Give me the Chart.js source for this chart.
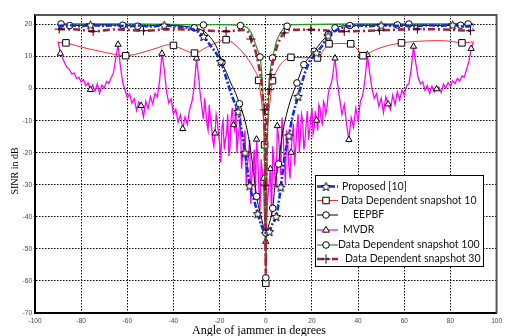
<!DOCTYPE html>
<html>
<head>
<meta charset="utf-8">
<script src="https://cdn.jsdelivr.net/npm/chart.js@4.4.0/dist/chart.umd.min.js"></script>
<style>
  html, body { margin: 0; padding: 0; background: #fff; }
  #wrap { width: 506px; height: 336px; position: relative; }
</style>
</head>
<body>
<div id="wrap"><canvas id="chart"></canvas></div>
<script>
// ---- data ----
const xTicks = [-100, -80, -60, -40, -20, 0, 20, 40, 60, 80, 100];
const yTicks = [-70, -60, -50, -40, -30, -20, -10, 0, 10, 20];

const proposedDeg = [-90, -85, -80, -76, -70, -65, -60, -55, -50, -44, -40, -36, -33, -30, -27, -24, -21, -19.5, -17, -15.5,
  -14, -12, -10.5, -9, -8, -7, -5, -3.5, -2, 0, 1.5, 3, 4.5, 5.5, 6.5, 8, 10, 11.5, 14, 15.5,
  17, 19, 22, 24.5, 27, 30, 33, 36, 40, 45, 50, 55, 60, 65, 70, 75, 81, 85, 90];
const proposedDb = [19.6, 19.8, 19.5, 19.9, 19.6, 19.8, 19.5, 19.7, 19.4, 19.8, 19.5, 19.3, 18.8, 18, 16.3, 13.5, 10.5, 8.5, 3, -0.5,
  -3.5, -7.1, -13, -20, -25, -30.3, -35, -39, -42.5, -45, -44.6, -42, -39.9, -36, -30.7, -22, -14.7, -9, -2.4, 1.5,
  5, 8.5, 11.2, 13.5, 16.5, 18, 19, 19.5, 19.7, 19.5, 19.8, 19.6, 19.7, 19.5, 19.8, 19.6, 19.9, 19.5, 19.7];
const proposedMarks = [-76, -44, -27, -19.5, -12, -9, -7, -3.5, 1.5, 4.5, 6.5, 10, 14, 22, 27, 50, 81];

const dd10Deg = [-90, -86.6, -80, -72, -66, -60.7, -55, -48, -41.7, -40, -36, -30.9, -26, -21, -17.2, -13, -8.6, -5, -3.1, -2,
  -1, -0.5, 0, 0.5, 1, 2, 2.9, 4, 5.8, 8, 10.9, 16, 22.4, 25, 27.4, 32, 36.8, 40.4, 42.1, 47,
  52, 58.8, 66, 75, 80, 85, 89.6];
const dd10Db = [14.5, 14.3, 13, 11.7, 10.8, 10.3, 11, 12.5, 13.75, 13.5, 12.3, 11.1, 12.8, 14.5, 15.3, 13.5, 10.1, 6, 2.6, -3,
  -10, -17.5, -60.7, -17.5, -10, -3, 2.5, 4.5, 7, 8.8, 9.8, 9.7, 9.6, 12, 14, 14.1, 14, 11.7, 10.3, 12,
  13.3, 14.3, 14.8, 15, 14.8, 14.3, 14.6];
const dd10Marks = [-86.6, -60.7, -40, -30.9, -17.2, -3.1, -0.5, 0, 2.9, 10.9, 22.4, 27.4, 36.8, 42.1, 58.8, 85];

const eepbfDeg = [-90, -88.7, -85, -75, -62, -55.5, -45, -38, -31, -27, -24, -21, -19, -17, -15, -13, -11.4, -9, -7, -5.5,
  -4, -2, 0, 1.5, 3, 4, 5.5, 7, 9, 11, 13.5, 16.5, 19, 21, 24, 27, 30, 36.4, 45, 57,
  62, 75, 84.4, 87.7, 90];
const eepbfDb = [20, 20.2, 19.7, 19.9, 19.8, 19.5, 19.8, 19.6, 19, 18, 16, 12.5, 8.2, 5, 1.5, -1.5, -4.7, -10, -17, -25,
  -33.6, -40, -45, -42, -37.3, -30, -23.5, -15, -8, -3, 1.8, 7.5, 10, 11.7, 14.5, 16.9, 19, 19.7, 19.8, 19.9,
  19.8, 19.7, 19.8, 20.2, 20];
const eepbfMarks = [-88.7, -85, -62, -55.5, -31, -19, -11.4, -4, 0, 3, 5.5, 13.5, 16.5, 21, 27, 30, 36.4, 57, 84.4, 87.7];

// MVDR sampled every degree on the flanks, every half degree in the main lobe
const mvdrDeg = [
  ...Array.from({ length: 60 }, (_, i) => i - 90),
  ...Array.from({ length: 121 }, (_, i) => -30 + i * 0.5),
  ...Array.from({ length: 60 }, (_, i) => 31 + i),
];
const mvdrDb = [
  // -90 .. -31
  14.7, 11, 9.5, 7.8, 6.5, 5.8, 4.6, 4.9, 3.2, 3.6,
  2.1, 2.8, 0.9, 1.8, -0.3, 1.2, -0.8, 1.5, -1.5, 1.1,
  0.2, 2.3, 1.6, 3.4, 5, 9.5, 13.8, 7, 2, -0.5,
  -2.8, -1.6, -4.5, -3.2, -6.8, -4.1, -5.3, -8.8, -3.9, -6.2,
  -2.5, -4.8, -1.5, -2.6, 2.5, 11, 6, -1, -4.5, -3.2,
  -8, -6.4, -10.5, -8.2, -12.5, -8.8, -11.2, -6.5, -4, 0.5,
  // -30 .. 30, half degree
  9.5, 6, 3, -1, -4, -7, -9.5, -3, -7, -11, -13, -5, -9, -12, -16, -18, -13.9, -8, -10, -14,
  -17, -23, -12, -10, -19, -16, -14, -8, -21, -18, -9, -6, -11.3, -13, -5, -20, -15, -12, -9, -25,
  -20, -17, -13, -30, -24, -21, -16, -36, -27, -24, -19, -33, -15.8, -21, -31, -38, -22, -26, -28, -42,
  -47.7, -38, -33, -29, -25, -40, -18, -22, -28, -31, -11.6, -15, -20, -27, -9, -14, -22, -30, -13, -17,
  -24, -28, -19.9, -14, -11, -24, -18, -12, -8, -20, -15, -8, -10, -19, -16, -11, -7, -16, -13, -9,
  -6, -14, -12, -7, -9.9, -13, -5, -6, -10, -11, -4, -5, -8, -6, -2, 0, 1, 2, 4, 7,
  9.5,
  // 31 .. 90
  2, -3, -8, -5, -11, -15.9, -9, -12, -6, -10,
  -4, -2, 3, 10.6, 5, 0, -3, -1.5, -5.5, -3,
  -7.5, -2.5, -4.8, -6.5, -2, -5, -1, -3.5, -0.5, -2,
  1, 1.5, 6, 13.2, 8, 3.5, 1.5, 2.2, -0.5, 1,
  -1.5, 0.8, -1, -0.1, 0.5, -1.2, 1.4, 0.2, 1.9, 0.8,
  2.5, 1.6, 3.2, 2.4, 4, 3.6, 6, 8.5, 12.5, 14.7];
const mvdrMarks = [-89, -76, -64, -54, -45, -36, -30, -22, -14, -4, -1, 0, 2, 5, 11, 22, 30, 36, 44, 53, 64, 74, 89];

const dd100Deg = [-90, -80, -60, -40, -27, -20, -11, -8, -6, -4.5, -3.5, -2.5, -2, -1.5, -1, -0.5, 0, 0.5, 1, 1.5,
  2, 2.9, 4, 5, 6.5, 8, 9.2, 12, 20, 40, 62, 80, 90];
const dd100Db = [20.2, 20.2, 20.2, 20.1, 19.9, 20, 19.7, 19, 17, 14, 12, 9.9, 7, 2, -8, -25, -59, -25, -8, 2,
  6, 9.6, 13, 15.5, 17.5, 19, 19.5, 20, 20.1, 20.2, 20.2, 20.2, 20.2];
const dd100Marks = [-27, -11, -2.5, 0, 2.9, 9.2, 62];

const dd30Deg = [-90, -89.5, -80, -74.8, -65, -53, -40, -30, -17.2, -10, -8, -6.4, -5, -4, -3, -2, -1, -0.5, -0.3, -0.15,
  0, 0.15, 0.5, 1, 1.5, 2.2, 3, 4, 5, 6.5, 8, 10, 19.5, 34, 49.3, 65.7, 80, 88.7, 90];
const dd30Db = [18.6, 18.6, 18.4, 17.9, 18.5, 18.1, 18.6, 18.3, 17.9, 18.3, 18, 15.5, 13, 10.5, 7, 3, -4, -6.6, -30.3, -45,
  -58, -30, -10, -3, -0.3, 4.4, 8, 11, 13.5, 16, 17.4, 18.3, 18.4, 17.9, 18.2, 18.6, 18.4, 18.1, 18.6];
const dd30Marks = [-89.5, -74.8, -53, -17.2, -6.4, -0.5, -0.3, -0.15, 1.5, 2.2, 8, 19.5, 34, 49.3, 65.7, 88.7];

// ---- helpers ----
const toPoints = (xs, ys) => xs.map((x, i) => ({ x, y: ys[i] }));

const starImage = (r) => {
  const c = document.createElement("canvas");
  const s = Math.ceil(r * 2 + 3);
  c.width = c.height = s;
  const g = c.getContext("2d");
  g.translate(s / 2, s / 2 + 0.5);
  g.beginPath();
  for (let i = 0; i < 10; i++) {
    const rr = i % 2 ? r * 0.45 : r;
    const a = -Math.PI / 2 + (i * Math.PI) / 5;
    g.lineTo(rr * Math.cos(a), rr * Math.sin(a));
  }
  g.closePath();
  g.fillStyle = "#fff";
  g.fill();
  g.strokeStyle = "#000";
  g.lineWidth = 1;
  g.stroke();
  return c;
};
const STAR = starImage(4.6);

const series = [
  { label: "Proposed [10]", deg: proposedDeg, db: proposedDb, marks: proposedMarks, color: "#1030e0",
    width: 2.6, dash: [6, 2, 2, 2], point: STAR, radius: 4, smooth: true, order: 1 },
  { label: "Data Dependent snapshot 10", deg: dd10Deg, db: dd10Db, marks: dd10Marks, color: "#ff2a2a",
    width: 1, dash: [], point: "rect", radius: 4.6, smooth: true, order: 5 },
  { label: "EEPBF", deg: eepbfDeg, db: eepbfDb, marks: eepbfMarks, color: "#000",
    width: 1, dash: [], point: "circle", radius: 3.3, smooth: true, order: 2 },
  { label: "MVDR", deg: mvdrDeg, db: mvdrDb, marks: mvdrMarks, color: "#ff00ff",
    width: 1.3, dash: [], point: "triangle", radius: 3.6, smooth: false, order: 6 },
  { label: "Data Dependent snapshot 100", deg: dd100Deg, db: dd100Db, marks: dd100Marks, color: "#1e9a1e",
    width: 1.2, dash: [], point: "circle", radius: 3.3, smooth: true, order: 4 },
  { label: "Data Dependent snapshot 30", deg: dd30Deg, db: dd30Db, marks: dd30Marks, color: "#a8203c",
    width: 2.6, dash: [7, 3, 2, 3], point: "cross", radius: 4.6, smooth: true, order: 3 },
];

const datasets = series.map((s) => ({
  label: s.label,
  data: toPoints(s.deg, s.db),
  borderColor: s.color,
  borderWidth: s.width,
  borderDash: s.dash,
  tension: 0,
  cubicInterpolationMode: s.smooth ? "monotone" : "default",
  pointStyle: s.point,
  pointRadius: (c) => (c.raw && s.marks.includes(c.raw.x) ? s.radius : 0),
  pointBorderColor: s.point === "cross" ? "#2a0a10" : "#000",
  pointBackgroundColor: "#fff",
  pointBorderWidth: 1,
  order: s.order,
}));

// legend sample marker, same look as the chart points
const drawMarker = (ctx, s, x, y) => {
  ctx.save();
  ctx.lineWidth = 1;
  ctx.strokeStyle = s.point === "cross" ? "#2a0a10" : "#000";
  ctx.fillStyle = "#fff";
  const r = s.radius;
  ctx.beginPath();
  if (s.point === STAR) {
    ctx.drawImage(STAR, x - STAR.width / 2, y - STAR.height / 2);
  } else if (s.point === "circle") {
    ctx.arc(x, y, r, 0, Math.PI * 2);
    ctx.fill(); ctx.stroke();
  } else if (s.point === "rect") {
    const h = r * Math.SQRT1_2;
    ctx.rect(x - h, y - h, 2 * h, 2 * h);
    ctx.fill(); ctx.stroke();
  } else if (s.point === "triangle") {
    ctx.moveTo(x, y - r);
    ctx.lineTo(x + r * 0.95, y + r * 0.6);
    ctx.lineTo(x - r * 0.95, y + r * 0.6);
    ctx.closePath();
    ctx.fill(); ctx.stroke();
  } else if (s.point === "cross") {
    ctx.moveTo(x - r, y); ctx.lineTo(x + r, y);
    ctx.moveTo(x, y - r); ctx.lineTo(x, y + r);
    ctx.stroke();
  }
  ctx.restore();
};

const decorations = {
  id: "decorations",
  afterDraw(chart) {
    const { ctx, chartArea: a } = chart;
    ctx.save();
    // top & right frame
    ctx.strokeStyle = "#555";
    ctx.lineWidth = 2;
    ctx.beginPath();
    ctx.moveTo(a.left, a.top);
    ctx.lineTo(a.right, a.top);
    ctx.lineTo(a.right, a.bottom);
    ctx.stroke();

    // axis titles
    ctx.fillStyle = "#000";
    ctx.font = "12px 'Liberation Serif', 'DejaVu Serif', serif";
    ctx.textAlign = "center";
    ctx.textBaseline = "alphabetic";
    ctx.fillText("Angle of jammer in degrees", 259, 334);
    ctx.save();
    ctx.translate(17.5, 171);
    ctx.rotate(-Math.PI / 2);
    ctx.font = "10px 'Liberation Serif', 'DejaVu Serif', serif";
    ctx.fillText("SINR in dB", 0, 0);
    ctx.restore();

    // legend
    const box = { l: 315, t: 175, r: 483, b: 266 };
    const rowY = [186.5, 200.5, 215, 230, 245, 259];
    const textX = [342, 341, 353, 343, 338, 345];
    ctx.fillStyle = "#fff";
    ctx.fillRect(box.l, box.t, box.r - box.l, box.b - box.t);
    ctx.strokeStyle = "#000";
    ctx.lineWidth = 1;
    ctx.strokeRect(box.l + 0.5, box.t + 0.5, box.r - box.l, box.b - box.t);
    series.forEach((s, i) => {
      const y = rowY[i];
      ctx.save();
      ctx.strokeStyle = s.color;
      ctx.lineWidth = s.width;
      ctx.setLineDash(s.dash);
      ctx.beginPath();
      ctx.moveTo(317, y);
      ctx.lineTo(338, y);
      ctx.stroke();
      ctx.restore();
      drawMarker(ctx, s, 326, y);
      ctx.fillStyle = "#111";
      ctx.font = "10.5px Lato, 'Open Sans', sans-serif";
      ctx.textAlign = "left";
      ctx.textBaseline = "middle";
      ctx.fillText(s.label, textX[i], y);
    });
    ctx.restore();
  },
};

const tickFont = { family: "'Liberation Sans', Arial, sans-serif", size: 6.5 };

new Chart(document.getElementById("chart").getContext("2d"), {
  type: "line",
  data: { datasets },
  options: {
    responsive: true,
    maintainAspectRatio: false,
    animation: false,
    events: [],
    layout: { padding: { top: 15, right: 7, left: 0, bottom: 0 } },
    plugins: { legend: { display: false }, tooltip: { enabled: false } },
    scales: {
      x: {
        type: "linear",
        min: -100,
        max: 100,
        afterBuildTicks: (axis) => { axis.ticks = xTicks.map((value) => ({ value })); },
        afterFit: (axis) => { axis.height = 23; },
        ticks: { font: tickFont, color: "#444", padding: 4, maxRotation: 0, autoSkip: false },
        grid: { color: "#000", lineWidth: 1, drawTicks: false },
        border: { display: true, color: "#000", width: 2, dash: [1.5, 1.5] },
      },
      y: {
        type: "linear",
        min: -70,
        max: 23,
        afterBuildTicks: (axis) => { axis.ticks = yTicks.map((value) => ({ value })); },
        afterFit: (axis) => { axis.width = 35; },
        ticks: { font: tickFont, color: "#444", padding: 3, autoSkip: false },
        grid: { color: "#000", lineWidth: 1, drawTicks: false },
        border: { display: true, color: "#000", width: 2, dash: [1.5, 1.5] },
      },
    },
  },
  plugins: [decorations],
});
</script>
</body>
</html>
